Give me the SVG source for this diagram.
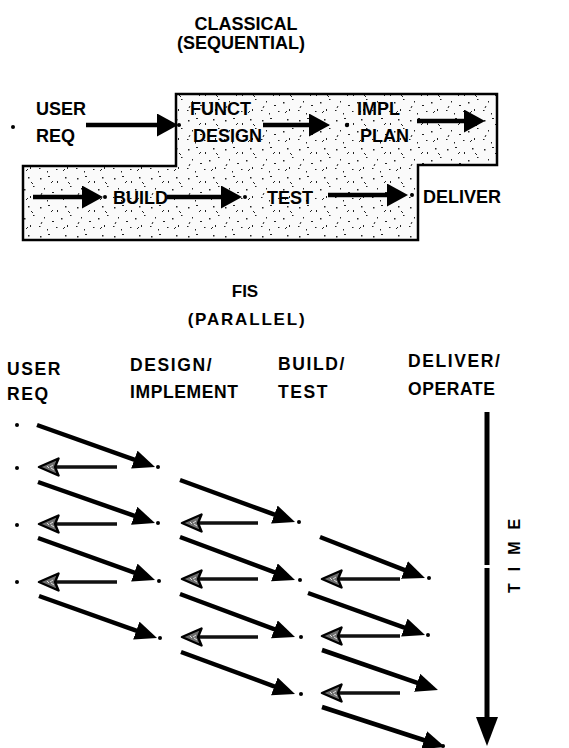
<svg xmlns="http://www.w3.org/2000/svg" width="569" height="748" viewBox="0 0 569 748">
<style>
.t{font-family:"Liberation Sans",Arial,sans-serif;font-weight:bold;font-size:18px;fill:#000}
.h{font-family:"Liberation Sans",Arial,sans-serif;font-weight:bold;font-size:17.5px;letter-spacing:1.6px;fill:#000}
.bigA{stroke:#000;stroke-width:4.5;fill:none;marker-end:url(#headBig)}
.diag{stroke:#000;stroke-width:4.5;fill:none;marker-end:url(#headBlk)}
.gray{stroke:#111;stroke-width:3.5;fill:none;marker-end:url(#headGray)}
.dot{fill:#000}
</style>
<defs>
<marker id="headBig" markerUnits="userSpaceOnUse" markerWidth="22" markerHeight="24" refX="13" refY="11.5" orient="auto" viewBox="0 0 22 24">
<path d="M0,0 L21,11.5 L0,23 z" fill="#000"/>
</marker>
<marker id="headBlk" markerUnits="userSpaceOnUse" markerWidth="23" markerHeight="20" refX="14" refY="9.5" orient="auto" viewBox="0 0 23 20">
<path d="M0,0 L22,9.5 L0,19 z" fill="#000"/>
</marker>
<marker id="headGray" markerUnits="userSpaceOnUse" markerWidth="24" markerHeight="22" refX="12" refY="10" orient="auto" viewBox="0 0 24 22">
<path d="M1.5,1.5 L21,10 L1.5,18.5 L5,10 z" fill="#6e6e6e" stroke="#000" stroke-width="2.4" stroke-linejoin="round"/>
<path d="M6,7 l3,2 M7,12 l3,-2 M11,9 l2,2" stroke="#ddd" stroke-width="1"/>
</marker>
<pattern id="stip" width="37" height="29" patternUnits="userSpaceOnUse">
<rect width="37" height="29" fill="#fafafa"/>
<g fill="#222">
<rect x="3" y="4" width="1.5" height="1.5"/>
<rect x="11" y="2" width="2" height="1"/>
<rect x="20" y="7" width="1" height="2"/>
<rect x="28" y="3" width="1.5" height="1.5"/>
<rect x="33" y="12" width="1.5" height="1"/>
<rect x="7" y="14" width="1" height="1.5"/>
<rect x="15" y="18" width="2" height="1"/>
<rect x="24" y="15" width="1.5" height="1.5"/>
<rect x="2" y="23" width="1.5" height="1"/>
<rect x="10" y="26" width="1" height="1.5"/>
<rect x="19" y="24" width="1.5" height="1"/>
<rect x="30" y="22" width="1" height="2"/>
</g>
<g stroke="#222" stroke-width="1" fill="none">
<path d="M14,9 l2,-2"/>
<path d="M26,26 l2,-2"/>
<path d="M5,19 l-1,2"/>
<path d="M31,8 l2,2"/>
</g>
</pattern>
</defs>

<g id="title-classical">
<text class="t" x="246" y="30" text-anchor="middle">CLASSICAL</text>
<text class="t" x="241" y="49" text-anchor="middle">(SEQUENTIAL)</text>
</g>

<g id="sequence-area">
<polygon points="176,94 497,94 497,165 418,165 418,240 23,240 23,166 176,166" fill="url(#stip)" stroke="#000" stroke-width="2.5"/>
</g>

<g id="user-req-1">
<circle class="dot" cx="13" cy="127" r="2"/>
<text class="t" x="36" y="115">USER</text>
<text class="t" x="36" y="142">REQ</text>
</g>
<g id="funct-design">
<circle class="dot" cx="179" cy="125" r="2"/>
<text class="t" x="190" y="115">FUNCT</text>
<text class="t" x="193" y="142">DESIGN</text>
</g>
<g id="impl-plan">
<circle class="dot" cx="347" cy="125" r="2.2"/>
<text class="t" x="357" y="115">IMPL</text>
<text class="t" x="360" y="142">PLAN</text>
</g>
<g id="build">
<circle class="dot" cx="105" cy="197" r="2"/>
<text class="t" x="113" y="204">BUILD</text>
</g>
<g id="test">
<circle class="dot" cx="245" cy="197" r="2"/>
<text class="t" x="267" y="204">TEST</text>
</g>
<g id="deliver">
<circle class="dot" cx="412" cy="195" r="2"/>
<text class="t" x="423" y="203">DELIVER</text>
</g>

<g id="connectors-classical">
<line class="bigA" x1="86" y1="125" x2="170" y2="125"/>
<line class="bigA" x1="263" y1="125" x2="322" y2="125"/>
<line class="bigA" x1="417" y1="121" x2="477" y2="121"/>
<line class="bigA" x1="33" y1="197" x2="95" y2="197"/>
<line class="bigA" x1="167" y1="197" x2="234" y2="197"/>
<line class="bigA" x1="328" y1="195" x2="400" y2="195"/>
</g>

<g id="title-fis">
<text class="t" x="245" y="297" text-anchor="middle" style="font-size:17px">FIS</text>
<text class="t" x="247" y="325" text-anchor="middle" style="font-size:17px;letter-spacing:1.8px">(PARALLEL)</text>
</g>

<g id="col-user-req">
<text class="h" x="7" y="375">USER</text>
<text class="h" x="7" y="400">REQ</text>
<circle class="dot" cx="17" cy="425" r="2"/>
<circle class="dot" cx="17" cy="468" r="2"/>
<circle class="dot" cx="17" cy="525" r="2"/>
<circle class="dot" cx="17" cy="582" r="2"/>
</g>
<g id="col-design-implement">
<text class="h" x="130" y="371">DESIGN/</text>
<text class="h" x="130" y="398" style="letter-spacing:0.6px">IMPLEMENT</text>
<circle class="dot" cx="158" cy="467" r="2"/>
<circle class="dot" cx="158" cy="523" r="2"/>
<circle class="dot" cx="159" cy="581" r="2"/>
<circle class="dot" cx="160" cy="638" r="2"/>
</g>
<g id="col-build-test">
<text class="h" x="278" y="370">BUILD/</text>
<text class="h" x="278" y="398">TEST</text>
<circle class="dot" cx="299" cy="522" r="2"/>
<circle class="dot" cx="300" cy="580" r="2"/>
<circle class="dot" cx="301" cy="637" r="2"/>
<circle class="dot" cx="301" cy="694" r="2"/>
</g>
<g id="col-deliver-operate">
<text class="h" x="408" y="367">DELIVER/</text>
<text class="h" x="408" y="395" style="letter-spacing:0.6px">OPERATE</text>
<circle class="dot" cx="429" cy="578" r="2"/>
<circle class="dot" cx="428" cy="635" r="2"/>
<circle class="dot" cx="443" cy="746" r="2"/>
</g>

<g id="time-axis">
<line x1="487" y1="412" x2="487" y2="565" stroke="#000" stroke-width="5"/>
<line x1="487" y1="568" x2="487" y2="722" stroke="#000" stroke-width="5"/>
<polygon points="476,717 498,717 487,746" fill="#000"/>
<text class="t" transform="translate(520,555) rotate(-90)" x="-38" y="0" style="font-size:16px;letter-spacing:12px">TIME</text>
</g>

<g id="connectors-fis">
<line class="diag" x1="37" y1="425" x2="147.5" y2="464.3"/>
<line class="diag" x1="38" y1="482" x2="147.4" y2="520.4"/>
<line class="diag" x1="38" y1="538" x2="147.5" y2="577.3"/>
<line class="diag" x1="39" y1="596" x2="149.5" y2="635.3"/>
<line class="diag" x1="180" y1="480" x2="287.5" y2="519.3"/>
<line class="diag" x1="180" y1="537" x2="287.5" y2="577.2"/>
<line class="diag" x1="180" y1="594" x2="287.5" y2="634.2"/>
<line class="diag" x1="181" y1="652" x2="287.5" y2="691.3"/>
<line class="diag" x1="320" y1="537" x2="417.5" y2="575.1"/>
<line class="diag" x1="308" y1="593" x2="417.5" y2="632.3"/>
<line class="diag" x1="322" y1="650" x2="430.4" y2="687.4"/>
<line class="diag" x1="322" y1="707" x2="437.4" y2="744.5"/>
<line class="gray" x1="117" y1="467" x2="48" y2="467"/>
<line class="gray" x1="117" y1="524" x2="48" y2="524"/>
<line class="gray" x1="117" y1="582" x2="48" y2="582"/>
<line class="gray" x1="258" y1="523" x2="191" y2="523"/>
<line class="gray" x1="258" y1="579" x2="191" y2="579"/>
<line class="gray" x1="258" y1="637" x2="191" y2="637"/>
<line class="gray" x1="400" y1="579" x2="331" y2="579"/>
<line class="gray" x1="400" y1="636" x2="331" y2="636"/>
<line class="gray" x1="400" y1="693" x2="331" y2="693"/>
</g>
</svg>
